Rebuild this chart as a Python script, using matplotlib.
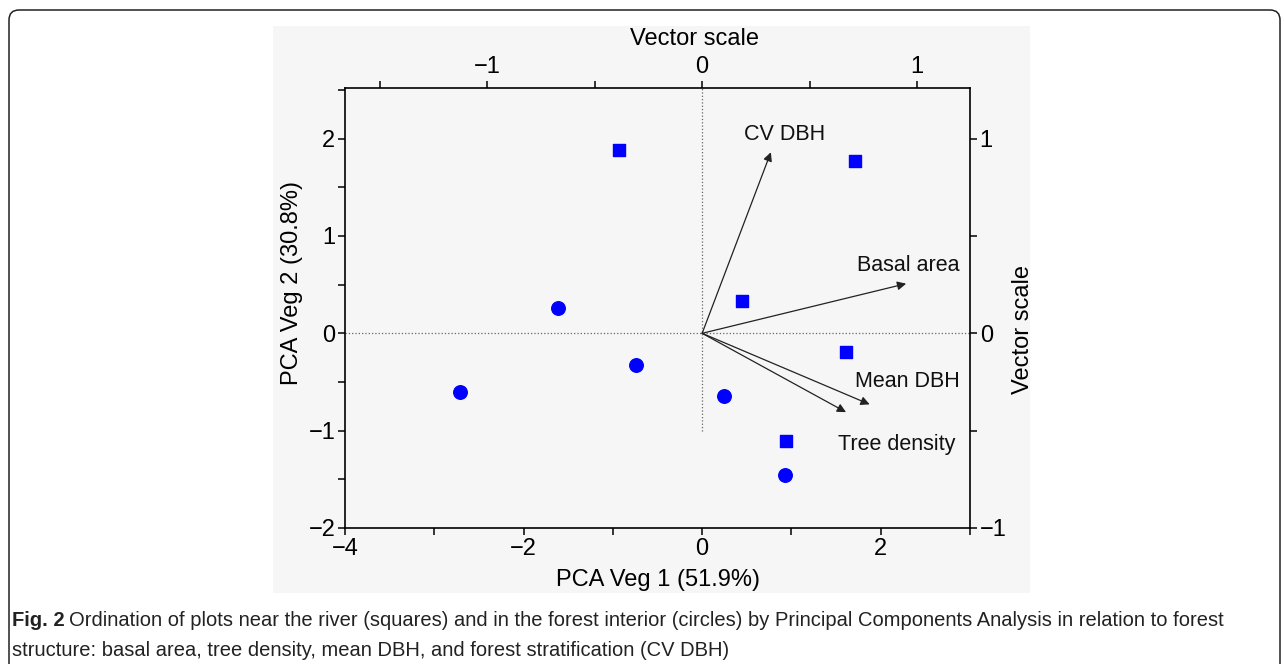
import numpy as np
import matplotlib
matplotlib.use("Agg")
import matplotlib.pyplot as plt
from matplotlib.patches import Rectangle, FancyBboxPatch
from matplotlib.ticker import MultipleLocator

plt.rcParams['font.family'] = ['Liberation Sans', 'DejaVu Sans']

# site scores (PCA axes)
river_x = [-0.93, 1.71, 0.45, 1.61, 0.94]
river_y = [1.88, 1.77, 0.33, -0.19, -1.11]
interior_x = [-1.61, -0.74, -2.71, 0.25, 0.93]
interior_y = [0.26, -0.33, -0.60, -0.64, -1.46]

# structure vectors (vector scale)
vec_names = ['CV DBH', 'Basal area', 'Mean DBH', 'Tree density']
vec_x = [0.32, 0.95, 0.78, 0.67]
vec_y = [0.93, 0.255, -0.365, -0.405]
# label anchor points (vector scale)
lab_x = [0.385, 0.96, 0.955, 0.905]
lab_y = [1.02, 0.35, -0.25, -0.57]

caption_bold = "Fig. 2"
caption_1 = ("Ordination of plots near the river (squares) and in the forest interior (circles) "
             "by Principal Components Analysis in relation to forest")
caption_2 = "structure: basal area, tree density, mean DBH, and forest stratification (CV DBH)"

fig = plt.figure(figsize=(12.84, 6.64), dpi=100)
W, H = 1284, 664

# outer rounded frame and grey picture panel
frame = FancyBboxPatch((0.09, -0.5), 12.71, 7.04, boxstyle="round,pad=0,rounding_size=0.1",
                       transform=fig.dpi_scale_trans, fill=False, lw=1.1, ec='#222222')
fig.add_artist(frame)
fig.add_artist(Rectangle((273 / W, 1 - 593 / H), (1030 - 273) / W, (593 - 26) / H,
                         transform=fig.transFigure, fc='#f6f6f6', ec='none', zorder=0))

pos = [345 / W, 1 - 528 / H, 625 / W, 440 / H]
ax = fig.add_axes(pos)
ax.patch.set_visible(False)
ax.set_xlim(-4, 3)
ax.set_ylim(-2, 2.52)

ax.scatter(river_x, river_y, marker='s', s=80, color='#0000ff', zorder=3)
ax.scatter(interior_x, interior_y, marker='o', s=95, color='#0000ff', zorder=3)

ax.axhline(0, color='#666666', lw=0.9, ls=':', zorder=1)
ax.plot([0, 0], [-1, 2.52], color='#666666', lw=0.9, ls=':', zorder=1)

ax.xaxis.set_major_locator(MultipleLocator(2))
ax.xaxis.set_minor_locator(MultipleLocator(1))
ax.yaxis.set_major_locator(MultipleLocator(1))
ax.yaxis.set_minor_locator(MultipleLocator(0.5))
ax.tick_params(which='both', direction='out', length=5, width=1.1, labelsize=17, pad=2)
ax.tick_params(top=False, right=False)
for sp in ax.spines.values():
    sp.set_linewidth(1.2)
ax.set_xlabel('PCA Veg 1 (51.9%)', fontsize=17, labelpad=7)
ax.set_ylabel('PCA Veg 2 (30.8%)', fontsize=17)
ax.yaxis.set_label_coords(-0.067, 0.557)

# vector scale axes on top/right
sx = 4 / 9.62
axv = fig.add_axes(pos, frameon=False)
axv.patch.set_visible(False)
axv.set_xlim(-4 * sx, 3 * sx)
axv.set_ylim(-1, 1.26)
axv.xaxis.tick_top()
axv.yaxis.tick_right()
axv.xaxis.set_label_position('top')
axv.yaxis.set_label_position('right')
axv.xaxis.set_major_locator(MultipleLocator(1))
axv.xaxis.set_minor_locator(MultipleLocator(0.5))
axv.yaxis.set_major_locator(MultipleLocator(1))
axv.yaxis.set_minor_locator(MultipleLocator(0.5))
axv.tick_params(which='both', direction='out', length=5, width=1.1, labelsize=17, pad=2)
axv.set_xlabel('Vector scale', fontsize=17)
axv.set_ylabel('Vector scale', fontsize=17)
axv.xaxis.set_label_coords(0.56, 1.097)
axv.yaxis.set_label_coords(1.067, 0.45)

for name, vx, vy, tx, ty in zip(vec_names, vec_x, vec_y, lab_x, lab_y):
    axv.annotate('', xy=(vx, vy), xytext=(0, 0),
                 arrowprops=dict(arrowstyle='-|>', lw=0.9, color='#222222',
                                 mutation_scale=13, shrinkA=0, shrinkB=0))
    axv.text(tx, ty, name, fontsize=15.5, ha='center', va='center', color='#111111')

# caption
t1 = fig.text(12 / W, 1 - 621 / H, caption_bold, fontsize=14.5, fontweight='bold',
              va='center', ha='left', color='#222222')
ax.annotate(caption_1, xy=(1, 0), xycoords=t1, xytext=(3.5, 0), textcoords='offset points',
            va='bottom', ha='left', fontsize=14.5, color='#222222', annotation_clip=False)
fig.text(12 / W, 1 - 651 / H, caption_2, fontsize=14.5, va='center', ha='left',
         color='#222222')

fig.savefig('out.png', dpi=100)
